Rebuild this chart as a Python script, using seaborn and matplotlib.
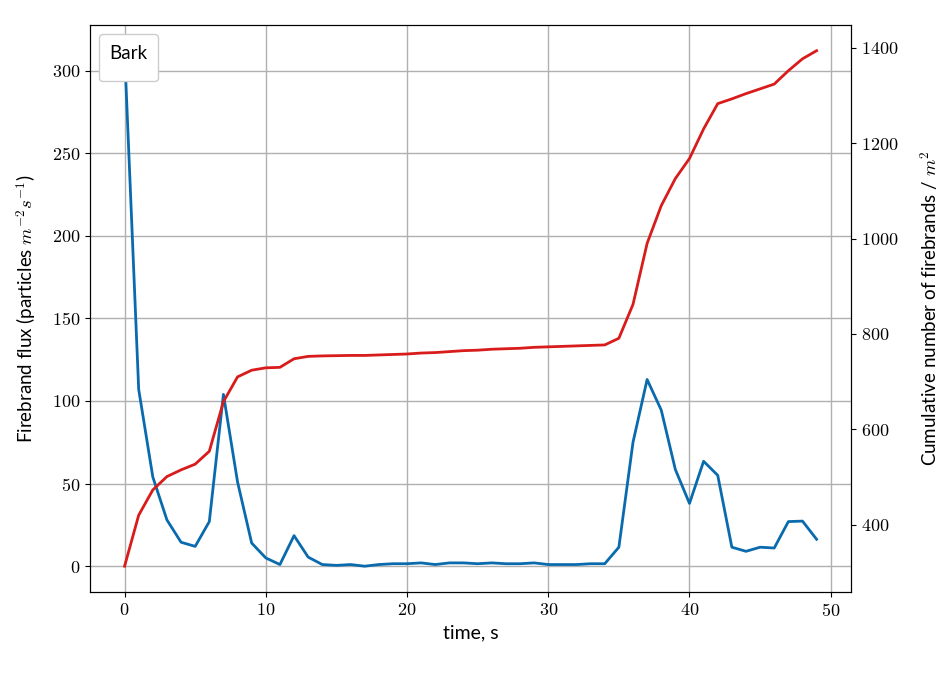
import numpy as np
import pandas as pd
import matplotlib
matplotlib.use('Agg')
import matplotlib.pyplot as plt
from matplotlib.ticker import FuncFormatter
import seaborn as sns

time_s = list(range(50))
flux = [312, 107, 54, 28, 14.5, 12, 27, 104, 51, 14,
        5, 1, 18.5, 5.5, 1, 0.5, 1, 0, 1, 1.5,
        1.5, 2, 1, 2, 2, 1.5, 2, 1.5, 1.5, 2,
        1, 1, 1, 1.5, 1.5, 11.5, 75, 113, 94.5, 58.5,
        38, 63.5, 55, 11.5, 9, 11.5, 11, 27, 27.3, 16.3]
cumulative = [313, 420, 473, 501, 515, 527, 554, 658, 710, 724,
              729, 730, 748, 753, 754, 754.5, 755, 755, 756, 757,
              758, 760, 761, 763, 765, 766, 768, 769, 770, 772,
              773, 774, 775, 776, 777, 791, 862, 990, 1069, 1126,
              1168, 1230, 1283, 1293, 1304, 1314, 1324, 1352, 1377, 1394]

df = pd.DataFrame({'time': time_s, 'flux': flux, 'cum': cumulative})

plt.rcParams['mathtext.fontset'] = 'cm'
plt.rcParams['font.family'] = ['Lato', 'DejaVu Sans']

fig = plt.figure(figsize=(9.5, 6.74), dpi=100)
ax = fig.add_axes([0.0947, 0.1217, 0.8013, 0.8413])

# firebrand flux on the left axis
sns.lineplot(data=df, x='time', y='flux', color='#0a6aae', linewidth=2, ax=ax)
ax.grid(True, color='#b0b0b0', linewidth=1)
ax.set_axisbelow(True)

# cumulative count on the right axis
ax2 = ax.twinx()
sns.lineplot(data=df, x='time', y='cum', color='#d81b1b', linewidth=2, ax=ax2)

fmt = FuncFormatter(lambda v, p: f'${v:g}$')
for a in (ax, ax2):
    a.xaxis.set_major_formatter(fmt)
    a.yaxis.set_major_formatter(fmt)
    a.tick_params(labelsize=13)

ax.set_xlabel('time, s', fontsize=14, labelpad=4)
ax.set_ylabel('Firebrand flux (particles $m^{-2}s^{-1}$)', fontsize=13.5, labelpad=10)
ax2.set_ylabel('Cumulative number of firebrands / $m^2$', fontsize=13.5, labelpad=14)

leg = ax2.legend(handles=[], title='Bark', loc='upper left', fontsize=13.5,
                 title_fontsize=13.5, borderpad=0.55, borderaxespad=0.5,
                 framealpha=1)

plt.savefig('out.png', dpi=100)
